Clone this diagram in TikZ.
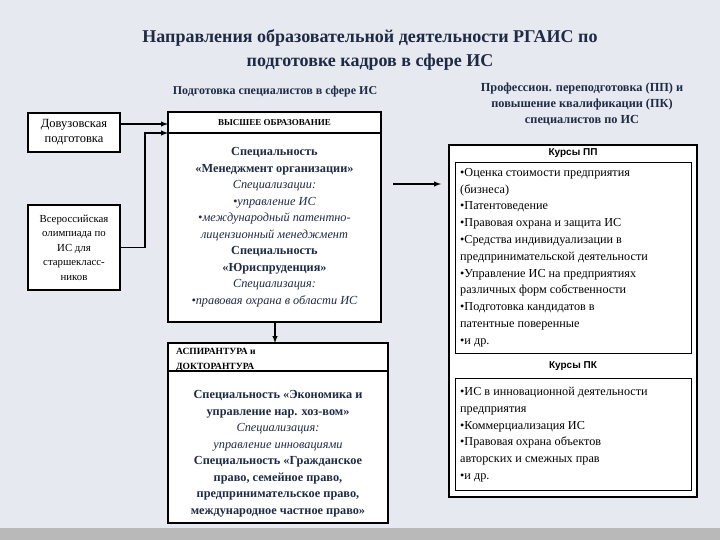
\documentclass[tikz,border=0pt]{standalone}
\usepackage{fontspec}
\setmainfont{Liberation Serif}
\newfontfamily\sansf{Liberation Sans}
\definecolor{navy}{HTML}{1F2A44}
\definecolor{bgc}{HTML}{E6EAF0}
\begin{document}
\begin{tikzpicture}[x=1pt,y=-1pt,
  bx/.style={draw=black,line width=1.4pt,fill=white},
  ibx/.style={draw=black,line width=0.9pt,fill=white},
  arr/.style={-latex,line width=1.4pt},
  txt/.style={inner sep=0pt,align=center,font=\fontsize{12.3}{16.5}\selectfont}]
\fill[bgc] (0,0) rectangle (720,540);
\fill[gray!55] (0,528) rectangle (720,540);
% titles
\node[txt,text=navy,font=\bfseries\fontsize{18}{24}\selectfont] (title) at (370,50) {Направления образовательной деятельности РГАИС по\\подготовке кадров в сфере ИС};
\node[txt,text=navy,font=\bfseries\fontsize{12}{14}\selectfont] (sub1) at (275,92) {Подготовка специалистов в сфере ИС};
\node[txt,text=navy,font=\bfseries\fontsize{12.3}{16}\selectfont] (sub2) at (582,104) {Профессион. переподготовка (ПП) и\\повышение квалификации (ПК)\\специалистов по ИС};
% left boxes
\node[bx,minimum width=92,minimum height=39,inner sep=1pt,align=center,font=\fontsize{12.5}{15}\selectfont] (pre) at (74,132.5) {Довузовская\\подготовка};
\node[bx,minimum width=92,minimum height=85,inner sep=1pt,align=center,font=\fontsize{10.8}{14.5}\selectfont] (olymp) at (74,247.5) {Всероссийская\\олимпиада по\\ИС для\\старшекласс-\\ников};
% higher education
\draw[bx] (168,112) rectangle (381,322);
\draw[line width=1.4pt] (168,133) -- (381,133);
\node[txt,font=\bfseries\fontsize{9}{11}\selectfont] (vo) at (274.5,123) {ВЫСШЕЕ ОБРАЗОВАНИЕ};
\node[txt,text=navy] (votext) at (274.5,227) {\textbf{Специальность}\\\textbf{«Менеджмент организации»}\\\textit{Специализации:}\\\textit{•управление ИС}\\\textit{•международный патентно-}\\\textit{лицензионный менеджмент}\\\textbf{Специальность}\\\textbf{«Юриспруденция»}\\\textit{Специализация:}\\\textit{•правовая охрана в области ИС}};
\coordinate (vo1) at (168,124);
\coordinate (vo2) at (168,133);
\coordinate (vob) at (275,322);
% aspirantura
\draw[bx] (168,343) rectangle (388,523);
\draw[line width=1.4pt] (168,371) -- (388,371);
\node[txt,align=left,anchor=west,font=\bfseries\fontsize{9.5}{15}\selectfont] (asp) at (176,360) {АСПИРАНТУРА и\\ДОКТОРАНТУРА};
\node[txt,text=navy] (asptext) at (278,454) {\textbf{Специальность «Экономика и}\\\textbf{управление нар. хоз-вом»}\\\textit{Специализация:}\\\textit{управление инновациями}\\\textbf{Специальность «Гражданское}\\\textbf{право, семейное право,}\\\textbf{предпринимательское право,}\\\textbf{международное частное право»}};
\coordinate (asptop) at (275,343);
% right
\draw[bx] (449,145) rectangle (697,497);
\node[txt,font=\sansf\bfseries\fontsize{10}{12}\selectfont] (pp) at (573,153) {Курсы ПП};
\draw[ibx] (455,162) rectangle (691,353);
\node[txt,align=left,anchor=north west,font=\fontsize{12.2}{16.8}\selectfont] (pptext) at (460,168) {•Оценка стоимости предприятия\\(бизнеса)\\•Патентоведение\\•Правовая охрана и защита ИС\\•Средства индивидуализации в\\предпринимательской деятельности\\•Управление ИС на предприятиях\\различных форм собственности\\•Подготовка кандидатов в\\патентные поверенные\\•и др.};
\node[txt,font=\sansf\bfseries\fontsize{10}{12}\selectfont] (pk) at (573,366) {Курсы ПК};
\draw[ibx] (455,378) rectangle (691,490);
\node[txt,align=left,anchor=north west,font=\fontsize{12.2}{16.8}\selectfont] (pktext) at (460,387) {•ИС в инновационной деятельности\\предприятия\\•Коммерциализация ИС\\•Правовая охрана объектов\\авторских и смежных прав\\•и др.};
\coordinate (rfrom) at (393,184);
\coordinate (rto) at (441,184);
% arrows
\draw[arr] (pre.east|-vo1) -- (vo1);
\draw[arr] (olymp.east) -- (145,247.5) -- (145,133) -- (vo2);
\draw[arr] (vob) -- (asptop);
\draw[arr] (rfrom) -- (rto);
\end{tikzpicture}
\end{document}
